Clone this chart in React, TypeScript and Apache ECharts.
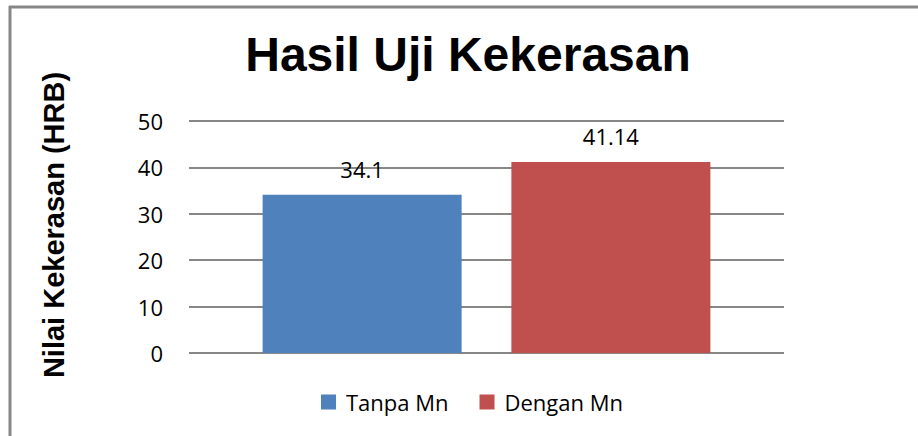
import React, { useEffect, useRef } from "react";
import * as echarts from "echarts";

const categories = [""];
const seriesNames = ["Tanpa Mn", "Dengan Mn"];
const tanpaMn = [34.1];
const denganMn = [41.14];
const colors = ["#4F81BD", "#C0504D"];
const titleText = "Hasil Uji Kekerasan";
const yAxisTitle = "Nilai Kekerasan (HRB)";

export default function App() {
  const ref = useRef<HTMLDivElement>(null);
  useEffect(() => {
    if (!ref.current) return;
    const chart = echarts.init(ref.current, undefined, { renderer: "svg" });
    const labelStyle = {
      show: true,
      position: "top" as const,
      distance: 15,
      fontFamily: "Open Sans",
      fontSize: 22,
      color: "#000",
    };
    chart.setOption({
      animation: false,
      backgroundColor: "#fff",
      title: {
        text: titleText,
        left: 463,
        textAlign: "center",
        top: 25,
        textStyle: {
          fontFamily: "Liberation Sans",
          fontWeight: "bold",
          fontSize: 48,
          color: "#000",
        },
      },
      legend: {
        top: 391,
        left: 321,
        padding: 0,
        itemWidth: 15,
        itemHeight: 15,
        itemGap: 31,
        icon: "rect",
        textStyle: {
          fontFamily: "Open Sans",
          fontSize: 22,
          color: "#000",
          padding: [0, 0, 0, 5],
        },
        data: seriesNames,
      },
      grid: { left: 189, right: 134, top: 121, bottom: 83, containLabel: false },
      xAxis: {
        type: "category",
        data: categories,
        axisLine: { show: false },
        axisTick: { show: false },
        axisLabel: { show: false },
      },
      yAxis: {
        type: "value",
        min: 0,
        max: 50,
        interval: 10,
        axisLine: { show: false },
        axisTick: { show: false },
        axisLabel: {
          margin: 26,
          fontFamily: "Open Sans",
          fontSize: 22,
          color: "#000",
        },
        splitLine: { lineStyle: { color: "#878787", width: 2 } },
      },
      series: [
        {
          name: seriesNames[0],
          type: "bar",
          data: tanpaMn,
          barWidth: 199,
          barGap: "25%",
          itemStyle: { color: colors[0] },
          label: labelStyle,
        },
        {
          name: seriesNames[1],
          type: "bar",
          data: denganMn,
          barWidth: 199,
          barGap: "25%",
          itemStyle: { color: colors[1] },
          label: labelStyle,
        },
      ],
      graphic: [
        {
          type: "line",
          shape: { x1: 9, y1: 7, x2: 918, y2: 7 },
          style: { stroke: "#878787", lineWidth: 3 },
        },
        {
          type: "line",
          shape: { x1: 10, y1: 6, x2: 10, y2: 436 },
          style: { stroke: "#878787", lineWidth: 3 },
        },
        {
          type: "text",
          x: 54,
          y: 225,
          rotation: Math.PI / 2,
          style: {
            text: yAxisTitle,
            align: "center",
            verticalAlign: "middle",
            fontFamily: "Liberation Sans",
            fontWeight: "bold",
            fontSize: 29,
            fill: "#000",
          },
        },
      ],
    });
    return () => chart.dispose();
  }, []);
  return (
    <div
      ref={ref}
      style={{ position: "fixed", left: 0, top: 0, width: 918, height: 436 }}
    />
  );
}
